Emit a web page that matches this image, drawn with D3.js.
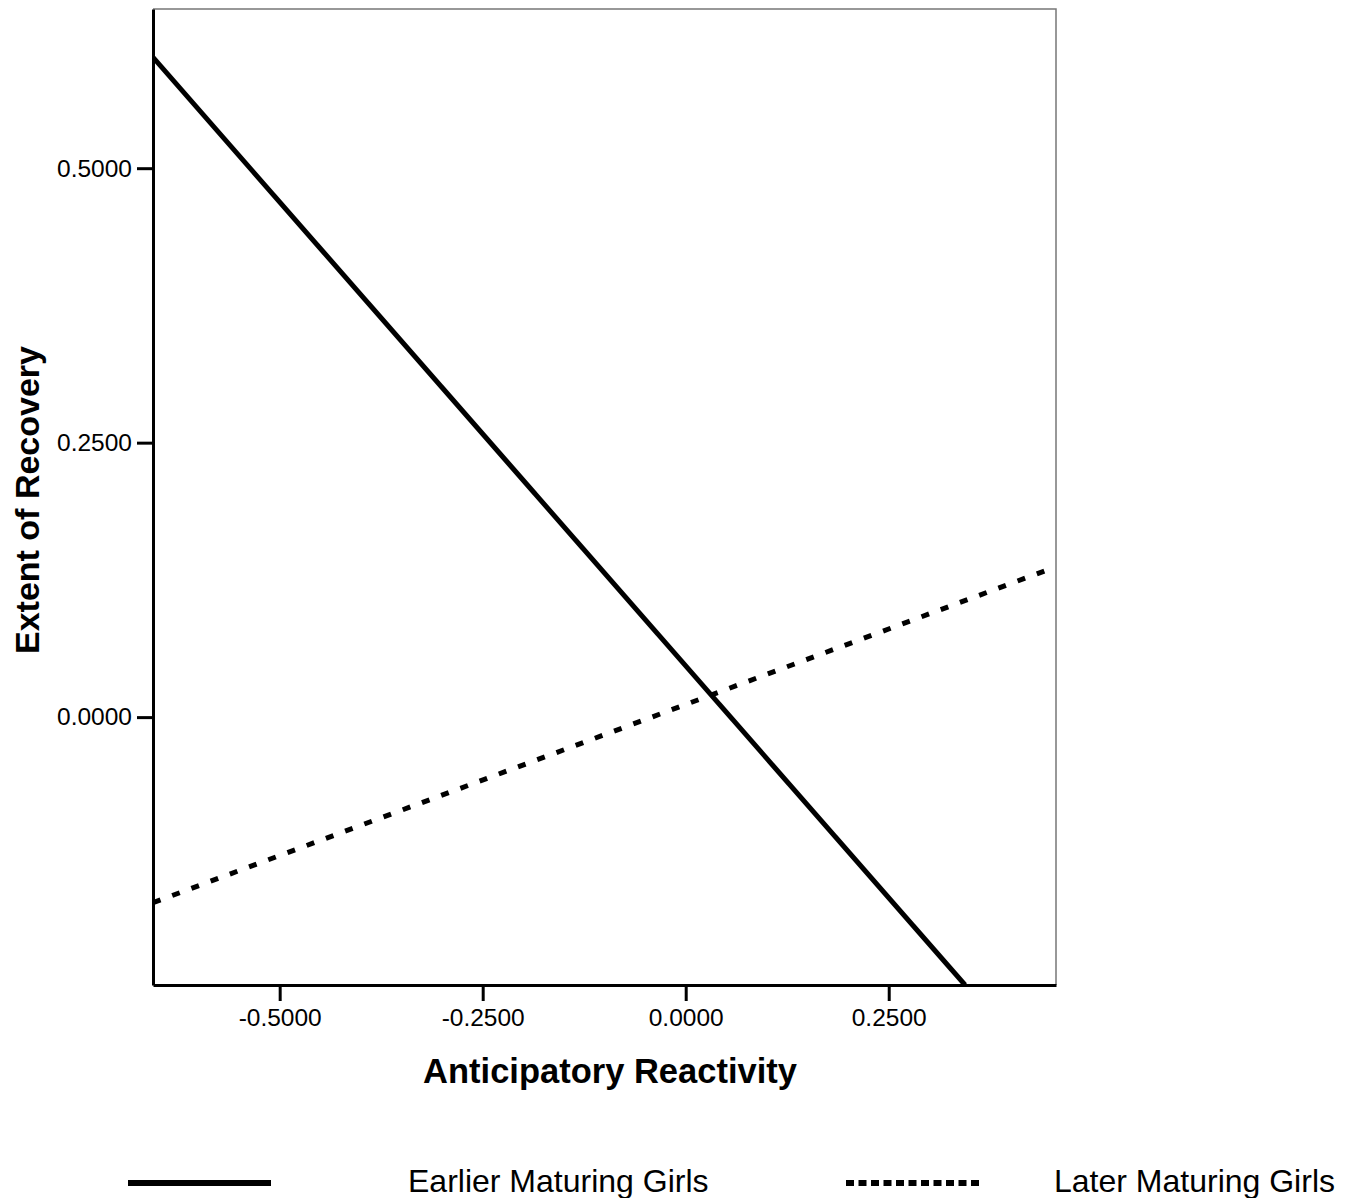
<!DOCTYPE html>
<html>
<head>
<meta charset="utf-8">
<script src="https://cdn.jsdelivr.net/npm/d3@7"></script>
<style>
  body { margin: 0; background: #fff; }
  svg { display: block; font-family: "Liberation Sans", Arial, sans-serif; }
</style>
</head>
<body>
<svg id="chart" width="1352" height="1198"></svg>
<script>
// axis ticks
const xTicks = [-0.5, -0.25, 0, 0.25];
const yTicks = [0, 0.25, 0.5];

// fitted lines (x, y pairs)
const earlierX = [-0.656, 0.344];
const earlierY = [0.601, -0.244];
const laterX = [-0.656, 0.456];
const laterY = [-0.169, 0.137];

const seriesNames = ["Earlier Maturing Girls", "Later Maturing Girls"];

const svg = d3.select("#chart");

const x = d3.scaleLinear().domain([-0.656, 0.456]).range([153, 1056]);
const y = d3.scaleLinear().domain([-0.244, 0.645]).range([985, 9]);

// plain hyphen for negatives, like the original
const fmt = d => d3.format(".4f")(d).replace("\u2212", "-");

// frame: thin gray top + right
svg.append("path")
    .attr("d", `M${x.range()[0]},${y.range()[1]}H${x.range()[1]}V${y.range()[0]}`)
    .attr("fill", "none")
    .attr("stroke", "#777")
    .attr("stroke-width", 1.5);

// clip for lines
svg.append("clipPath").attr("id", "plotClip")
  .append("rect")
    .attr("x", 153).attr("y", 9)
    .attr("width", 1056 - 153).attr("height", 985 - 9);

const line = d3.line().x(d => x(d[0])).y(d => y(d[1]));

const earlier = earlierX.map((v, i) => [v, earlierY[i]]);
const later = laterX.map((v, i) => [v, laterY[i]]);

const g = svg.append("g").attr("clip-path", "url(#plotClip)");

g.append("path")
    .datum(later)
    .attr("d", line)
    .attr("fill", "none")
    .attr("stroke", "#000")
    .attr("stroke-width", 5)
    .attr("stroke-dasharray", "8,12.5");

g.append("path")
    .datum(earlier)
    .attr("d", line)
    .attr("fill", "none")
    .attr("stroke", "#000")
    .attr("stroke-width", 5);

// x axis
const xAxis = svg.append("g")
    .attr("transform", `translate(0,${y.range()[0]})`)
    .call(d3.axisBottom(x).tickValues(xTicks).tickSize(16).tickPadding(8)
        .tickSizeOuter(0).tickFormat(fmt));
xAxis.select(".domain").attr("stroke-width", 3);
xAxis.selectAll(".tick line").attr("stroke-width", 3);
xAxis.selectAll(".tick text").attr("font-size", 24.5).attr("font-family", "Liberation Sans, Arial, sans-serif").attr("fill", "#000");

// y axis
const yAxis = svg.append("g")
    .attr("transform", `translate(${x.range()[0]},0)`)
    .call(d3.axisLeft(y).tickValues(yTicks).tickSize(16).tickPadding(5)
        .tickSizeOuter(0).tickFormat(fmt));
yAxis.select(".domain").attr("stroke-width", 3);
yAxis.selectAll(".tick line").attr("stroke-width", 3);
yAxis.selectAll(".tick text").attr("font-size", 24.5).attr("font-family", "Liberation Sans, Arial, sans-serif").attr("fill", "#000");

// axis titles
svg.append("text")
    .attr("x", 610).attr("y", 1083)
    .attr("text-anchor", "middle")
    .attr("font-size", 34.5).attr("font-weight", "bold")
    .text("Anticipatory Reactivity");

svg.append("text")
    .attr("transform", "translate(39,500) rotate(-90)")
    .attr("text-anchor", "middle")
    .attr("font-size", 34).attr("font-weight", "bold")
    .text("Extent of Recovery");

// legend
const legend = svg.append("g");
legend.append("line")
    .attr("x1", 128).attr("x2", 271).attr("y1", 1183).attr("y2", 1183)
    .attr("stroke", "#000").attr("stroke-width", 6);
legend.append("text")
    .attr("x", 408).attr("y", 1192)
    .attr("font-size", 32)
    .text(seriesNames[0]);
legend.append("line")
    .attr("x1", 846).attr("x2", 981).attr("y1", 1183).attr("y2", 1183)
    .attr("stroke", "#000").attr("stroke-width", 6)
    .attr("stroke-dasharray", "8,4.5");
legend.append("text")
    .attr("x", 1054).attr("y", 1192)
    .attr("font-size", 32)
    .text(seriesNames[1]);
</script>
</body>
</html>
